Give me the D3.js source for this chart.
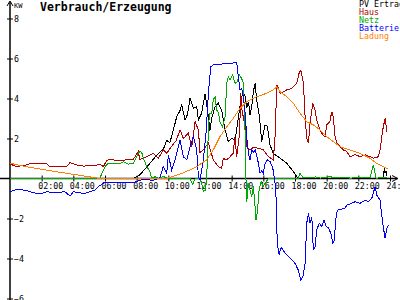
<!DOCTYPE html>
<html>
<head>
<meta charset="utf-8">
<script src="https://cdn.jsdelivr.net/npm/d3@7"></script>
<style>
  body { margin: 0; background: #fff; }
  svg { display: block; }
  text { font-family: "DejaVu Sans Mono", monospace; }
</style>
</head>
<body>
<svg id="chart" width="400" height="300"></svg>
<script>
"use strict";

// legend names and colours
var seriesNames = ["PV Ertrag", "Haus", "Netz", "Batterie", "Ladung"];
var seriesColors = ["#000000", "#b00000", "#00aa00", "#0000ff", "#ff8000"];

// tick labels
var hourTicks = [2, 4, 6, 8, 10, 12, 14, 16, 18, 20, 22, 24];
var kwTicks = [-6, -4, -2, 2, 4, 6, 8];

// [hour, kW]
var pvData = [[0,0],[7.8,0],[8.2,0.18],[8.84,0.76],[9.37,1.26],[9.68,1.45],[9.9,1.9],[10.1,1.8],[10.32,2.43],
  [10.53,3.09],[10.74,3.4],[10.85,3.68],[11.05,2.93],[11.2,3.18],[11.37,4.01],[11.58,3.51],[11.79,3.6],
  [11.9,2.93],[12.1,3.26],[12.32,4.22],[12.5,3.26],[12.63,2.4],[12.74,3.0],[12.95,3.59],[13.16,3.76],
  [13.37,3.4],[13.58,2.43],[13.79,1.84],[14.0,2.01],[14.21,1.9],[14.42,3.01],[14.6,4.01],[14.74,4.3],
  [14.85,4.1],[14.95,3.51],[15.06,3.84],[15.16,3.18],[15.27,3.6],[15.37,4.34],[15.48,4.76],[15.58,3.93],
  [15.75,3.09],[15.9,1.84],[16.11,2.68],[16.26,2.6],[16.42,1.68],[16.63,1.26],[17.06,1.01],[17.48,0.76],
  [17.9,0.34],[18.2,0],[23.6,0],[23.63,0.5],[23.68,0.3],[23.75,0.35],[23.8,0.15]];

var hausData = [[0,0.72],[0.42,0.6],[0.9,0.65],[1.37,0.76],[2.3,0.76],[2.5,0.6],[3.0,0.62],[3.58,0.62],
  [3.79,0.79],[4.2,0.68],[4.63,0.62],[5.2,0.65],[5.69,0.69],[5.9,0.6],[6.1,0.89],[6.3,0.96],[6.6,0.92],
  [7.2,0.92],[7.5,0.95],[7.79,0.96],[8.1,1.34],[8.2,0.95],[8.64,1.09],[9.05,1.26],[9.37,1.0],[9.68,1.43],
  [9.9,1.26],[10.2,1.6],[10.5,1.9],[10.74,2.43],[10.95,2.0],[11.26,2.26],[11.48,1.59],[11.69,2.84],
  [11.9,2.43],[12.0,1.3],[12.2,1.43],[12.53,1.76],[12.84,0.93],[13.16,0.59],[13.37,0.51],[13.47,1.0],
  [13.69,0.93],[13.9,1.09],[14.1,1.26],[14.2,2.09],[14.32,1.09],[14.5,2.26],[14.57,4.26],[14.65,3.43],
  [14.85,2.59],[14.95,1.59],[15.16,1.43],[15.37,1.55],[15.69,1.51],[16.0,1.43],[16.32,1.09],[16.63,0.93],
  [16.74,2.09],[16.85,4.68],[16.95,4.51],[17.06,4.26],[17.27,4.34],[17.48,4.43],[17.8,4.51],[18.11,4.76],
  [18.28,5.34],[18.37,5.39],[18.53,4.76],[18.64,3.09],[18.74,2.01],[18.85,1.76],[18.95,2.76],[19.12,3.76],
  [19.27,3.43],[19.37,2.93],[19.58,2.43],[19.75,2.18],[19.9,2.1],[20.0,2.68],[20.2,2.84],[20.32,3.34],
  [20.42,3.09],[20.53,2.09],[20.64,1.76],[20.85,1.6],[21.05,1.43],[21.27,1.35],[21.48,1.09],[21.8,1.2],
  [22.1,1.09],[22.43,1.18],[22.74,1.09],[22.95,1.01],[23.27,1.09],[23.37,1.43],[23.54,2.43],[23.69,3.01],
  [23.8,2.34]];

var netzData = [[0,0],[5.69,0],[5.79,0.26],[6.0,0.59],[6.21,0.76],[6.53,0.76],[6.95,0.74],[7.16,0.84],
  [7.47,0.72],[7.79,0.74],[8.0,1.09],[8.21,1.38],[8.32,1.3],[8.42,1.01],[8.64,0.59],[8.84,0.34],[8.95,0],
  [9.16,0.09],[9.37,0],[9.68,0.1],[10.0,0],[11.37,0],[11.54,-0.3],[11.69,0],[12.0,0],[12.1,-0.24],
  [12.21,-0.66],[12.32,-0.6],[12.42,-0.1],[12.48,1.43],[12.59,3.26],[12.74,3.26],[12.84,3.93],[12.95,4.09],
  [13.05,3.43],[13.16,3.3],[13.26,2.84],[13.43,2.59],[13.58,3.09],[13.69,4.76],[13.79,5.09],[13.9,4.93],
  [14.07,5.18],[14.21,4.76],[14.36,4.85],[14.48,5.18],[14.63,5.0],[14.74,4.76],[14.85,2.26],[14.91,-0.24],
  [14.95,-1.16],[15.06,-0.24],[15.16,-0.58],[15.27,-0.9],[15.37,-0.4],[15.48,-1.41],[15.54,-2.08],
  [15.63,-1.6],[15.73,-0.58],[15.86,-0.16],[16.0,-0.4],[16.17,-0.16],[16.32,0],[18.2,0],[18.32,0.26],
  [18.5,0.05],[19.0,0.05],[19.3,0.08],[19.6,0.02],[20.2,0.1],[20.5,0.03],[21.0,0.06],[21.5,0.02],
  [22.0,0.04],[22.74,0.05],[22.95,0.68],[23.12,0],[23.4,0.06],[23.6,0.05],[23.8,0.03]];

var battData = [[0,-0.66],[0.42,-0.54],[1.05,-0.6],[1.47,-0.71],[1.9,-0.77],[2.32,-0.66],[2.84,-0.72],
  [3.47,-0.66],[3.79,-0.88],[4.0,-0.66],[4.42,-0.72],[4.74,-0.75],[5.05,-0.66],[5.37,-0.58],[5.58,-0.41],
  [5.79,-0.29],[6.0,-0.18],[6.53,-0.18],[7.37,-0.18],[7.9,-0.18],[8.21,-0.08],[8.64,-0.05],[9.05,-0.1],
  [9.47,0.05],[9.68,0.59],[9.9,0.26],[10.0,1.18],[10.21,0.43],[10.42,0.93],[10.63,1.59],[10.74,1.93],
  [10.95,1.09],[11.16,0.93],[11.37,1.59],[11.58,2.09],[11.79,1.43],[11.9,0.09],[12.0,-0.07],[12.21,0.93],
  [12.38,2.26],[12.53,4.26],[12.68,5.59],[12.84,5.68],[13.47,5.73],[14.32,5.79],[14.42,5.09],[14.53,4.43],
  [14.63,4.5],[14.74,4.09],[14.85,3.26],[14.95,2.09],[15.06,1.26],[15.16,0.93],[15.27,1.43],[15.37,1.3],
  [15.48,1.43],[15.63,1.01],[15.79,0.26],[15.9,0.4],[16.0,0.26],[16.11,0.76],[16.26,0.93],[16.42,0.85],
  [16.6,0.51],[16.74,-0.24],[16.8,-0.91],[16.85,-2.58],[16.91,-3.41],[17.0,-3.83],[17.06,-3.58],
  [17.16,-3.45],[17.37,-3.74],[17.69,-3.99],[18.0,-4.24],[18.21,-4.58],[18.37,-5.08],[18.5,-4.91],
  [18.64,-4.24],[18.74,-2.24],[18.85,-1.74],[18.95,-2.24],[19.06,-1.91],[19.16,-3.58],[19.27,-3.4],
  [19.37,-2.58],[19.53,-2.24],[19.69,-2.4],[19.84,-2.08],[19.96,-2.4],[20.1,-2.45],[20.26,-2.74],
  [20.39,-3.24],[20.47,-3.1],[20.6,-1.91],[20.68,-1.58],[20.85,-1.55],[21.16,-1.49],[21.27,-1.33],
  [21.48,-1.28],[21.8,-1.16],[22.1,-1.24],[22.43,-1.08],[22.64,-1.16],[22.85,-0.99],[23.06,-0.41],
  [23.16,-0.83],[23.37,-1.08],[23.54,-2.24],[23.69,-2.99],[23.8,-2.5],[23.9,-2.33]];

var ladungData = [[0,0.76],[1.05,0.59],[2.53,0.39],[3.58,0.26],[4.63,0.13],[5.69,0],[9.9,0],[10.74,0.22],
  [11.37,0.43],[11.79,0.59],[12.42,0.93],[12.84,1.43],[13.26,2.09],[13.69,2.59],[14.1,3.0],[14.53,3.51],
  [14.95,3.84],[15.58,4.09],[16.21,4.26],[16.63,4.43],[16.85,4.59],[17.06,4.34],[17.48,4.09],[17.9,3.76],
  [18.32,3.26],[18.74,2.84],[19.16,2.68],[19.58,2.43],[20.0,2.09],[20.42,1.84],[20.85,1.59],[21.48,1.43],
  [22.1,1.26],[22.74,1.01],[23.16,0.76],[23.58,0.59],[23.9,0.46]];

var allSeries = [pvData, hausData, netzData, battData, ladungData];

var svg = d3.select("#chart");

var x = d3.scaleLinear().domain([0, 24]).range([10, 390]);
var y = d3.scaleLinear().domain([-6, 8]).range([298.5, 18.5]);

svg.append("rect").attr("width", 400).attr("height", 300).attr("fill", "#fff");

// x axis
var xAxis = svg.append("g")
  .attr("transform", "translate(0," + y(0) + ")")
  .call(d3.axisBottom(x).tickValues(hourTicks).tickSize(3)
    .tickFormat(function(d) { return (d < 10 ? "0" : "") + d + ":00"; }));
xAxis.select(".domain").remove();
xAxis.selectAll(".tick line").attr("y1", -3).attr("y2", 3).attr("stroke", "#000");
xAxis.selectAll(".tick text")
  .attr("y", 10).attr("dy", 0)
  .attr("x", -4)
  .attr("text-anchor", "start")
  .style("font-family", "DejaVu Sans Mono")
  .style("font-size", "8.3px");

svg.append("line")
  .attr("x1", 0).attr("x2", 397)
  .attr("y1", y(0)).attr("y2", y(0))
  .attr("stroke", "#000").attr("stroke-width", 1.5);
svg.append("path")
  .attr("d", "M392," + (y(0) - 3) + "L398," + y(0) + "L392," + (y(0) + 3))
  .attr("fill", "none").attr("stroke", "#000");

// y axis
var yAxis = svg.append("g")
  .attr("transform", "translate(" + x(0) + ",0)")
  .call(d3.axisLeft(y).tickValues(kwTicks).tickSize(3));
yAxis.select(".domain").remove();
yAxis.selectAll(".tick line").attr("x1", -3).attr("x2", 3).attr("stroke", "#000");
yAxis.selectAll(".tick text")
  .attr("x", 4).attr("dy", "0.32em")
  .attr("text-anchor", "start")
  .style("font-family", "DejaVu Sans Mono")
  .style("font-size", "8.3px");

svg.append("line")
  .attr("x1", x(0)).attr("x2", x(0))
  .attr("y1", 2).attr("y2", 300)
  .attr("stroke", "#000").attr("stroke-width", 1.5);
svg.append("path")
  .attr("d", "M" + (x(0) - 3) + ",6L" + x(0) + ",1L" + (x(0) + 3) + ",6")
  .attr("fill", "none").attr("stroke", "#000");
svg.append("text")
  .attr("x", 14).attr("y", 8)
  .style("font-size", "7px")
  .text("KW");

// title
svg.append("text")
  .attr("x", 40).attr("y", 11)
  .style("font-size", "11.5px")
  .style("font-weight", "bold")
  .text("Verbrauch/Erzeugung");

// lines
var line = d3.line()
  .x(function(d) { return x(d[0]); })
  .y(function(d) { return y(d[1]); });

svg.selectAll("path.serie")
  .data(allSeries)
  .enter()
  .append("path")
  .attr("class", "serie")
  .attr("d", line)
  .attr("fill", "none")
  .attr("stroke", function(d, i) { return seriesColors[i]; })
  .attr("stroke-width", 1)
  .style("shape-rendering", "crispEdges");

// legend
svg.selectAll("text.legend")
  .data(seriesNames)
  .enter()
  .append("text")
  .attr("class", "legend")
  .attr("x", 359)
  .attr("y", function(d, i) { return 7 + i * 8; })
  .attr("fill", function(d, i) { return seriesColors[i]; })
  .style("font-size", "8.3px")
  .text(function(d) { return d; });
</script>
</body>
</html>
